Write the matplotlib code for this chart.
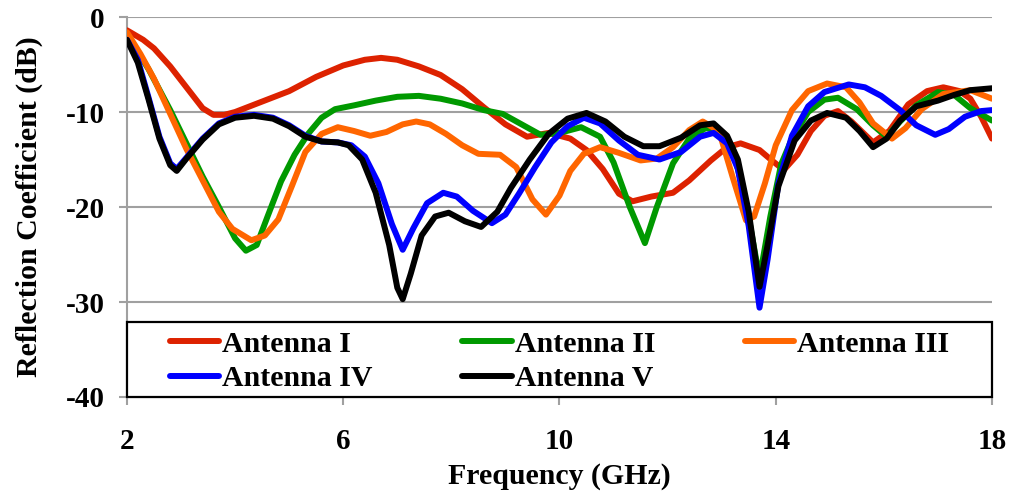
import matplotlib
matplotlib.use("Agg")
import matplotlib.pyplot as plt
from matplotlib.patches import Rectangle

plt.rcParams['font.family'] = ['Liberation Serif', 'DejaVu Serif']
plt.rcParams['font.weight'] = 'bold'
plt.rcParams['axes.unicode_minus'] = False

labels = ["Antenna I", "Antenna II", "Antenna III", "Antenna IV", "Antenna V"]
colors = ["#DD2200", "#009900", "#FF6600", "#0000FF", "#000000"]

f1 = [2.0, 2.3, 2.5, 2.8, 3.1, 3.4, 3.6, 3.8, 4.0, 4.5, 5.0, 5.5, 6.0, 6.4, 6.7, 7.0, 7.4, 7.8, 8.2, 8.6,
      9.0, 9.4, 9.8, 10.2, 10.5, 10.8, 11.1, 11.35, 11.7, 12.1, 12.4, 12.8, 13.1, 13.35, 13.7, 13.95, 14.15,
      14.4, 14.65, 14.9, 15.15, 15.4, 15.8, 16.1, 16.45, 16.8, 17.1, 17.4, 17.6, 17.8, 18.0]
s1 = [-1.4, -2.4, -3.3, -5.2, -7.4, -9.6, -10.3, -10.3, -10.0, -8.9, -7.8, -6.3, -5.1, -4.5, -4.3, -4.5, -5.2,
      -6.1, -7.6, -9.5, -11.3, -12.6, -12.2, -12.8, -14.0, -16.0, -18.6, -19.4, -18.9, -18.5, -17.2, -15.1,
      -13.7, -13.3, -14.0, -15.2, -16.1, -14.5, -12.0, -10.4, -9.9, -11.0, -13.2, -12.0, -9.2, -7.8, -7.4,
      -7.8, -8.6, -10.5, -12.8]

f2 = [2.0, 2.4, 2.8, 3.1, 3.4, 3.7, 4.0, 4.2, 4.4, 4.6, 4.85, 5.1, 5.35, 5.6, 5.85, 6.2, 6.6, 7.0, 7.4, 7.8,
      8.2, 8.6, 8.95, 9.3, 9.65, 10.0, 10.4, 10.75, 11.0, 11.3, 11.58, 11.8, 12.1, 12.4, 12.7, 12.95, 13.2,
      13.45, 13.7, 13.9, 14.1, 14.3, 14.6, 14.9, 15.15, 15.5, 15.8, 16.05, 16.3, 16.6, 17.0, 17.3, 17.6, 18.0]
s2 = [-1.8, -5.5, -9.8, -13.3, -16.8, -20.0, -23.3, -24.6, -24.0, -21.0, -17.3, -14.5, -12.3, -10.6, -9.7,
      -9.3, -8.8, -8.4, -8.3, -8.6, -9.1, -9.8, -10.2, -11.3, -12.4, -12.2, -11.6, -12.6, -15.3, -20.0, -23.8,
      -20.0, -15.4, -12.8, -11.7, -11.9, -13.7, -19.5, -27.5, -21.0, -15.5, -12.8, -10.0, -8.7, -8.5, -9.7,
      -11.4, -12.6, -11.0, -9.3, -7.9, -8.2, -9.6, -10.9]

f3 = [2.0, 2.25, 2.5, 2.8, 3.1, 3.4, 3.7, 3.95, 4.3, 4.55, 4.8, 5.05, 5.3, 5.6, 5.9, 6.2, 6.5, 6.8, 7.1, 7.35,
      7.6, 7.9, 8.2, 8.5, 8.9, 9.2, 9.5, 9.75, 10.0, 10.2, 10.45, 10.75, 11.1, 11.5, 11.8, 12.1, 12.4, 12.65,
      12.95, 13.2, 13.45, 13.6, 13.8, 14.0, 14.3, 14.6, 14.95, 15.3, 15.55, 15.8, 16.15, 16.4, 16.7, 17.1,
      17.6, 18.0]
s3 = [-1.6, -3.9, -6.5, -10.2, -13.9, -17.2, -20.5, -22.3, -23.5, -23.0, -21.3, -17.8, -14.2, -12.3, -11.6,
      -12.0, -12.5, -12.1, -11.3, -11.0, -11.3, -12.3, -13.5, -14.4, -14.5, -15.8, -19.2, -20.8, -18.8, -16.2,
      -14.4, -13.7, -14.3, -15.1, -14.9, -13.7, -11.9, -11.0, -12.0, -16.8, -21.4, -21.0, -17.5, -13.5, -9.8,
      -7.8, -7.0, -7.4, -9.0, -11.2, -12.8, -11.7, -9.7, -8.1, -7.7, -8.6]

f4 = [2.0, 2.2, 2.4, 2.6, 2.8, 2.92, 3.1, 3.4, 3.7, 4.0, 4.35, 4.7, 5.0, 5.3, 5.6, 5.9, 6.15, 6.4, 6.65, 6.9,
      7.1, 7.3, 7.55, 7.85, 8.1, 8.4, 8.75, 9.0, 9.25, 9.55, 9.85, 10.15, 10.45, 10.75, 11.1, 11.45, 11.85,
      12.25, 12.6, 12.85, 13.1, 13.3, 13.5, 13.7, 13.85, 14.05, 14.3, 14.6, 14.9, 15.35, 15.65, 15.95, 16.3,
      16.6, 16.95, 17.2, 17.5, 17.8, 18.0]
s4 = [-2.4, -4.5, -8.5, -12.6, -15.4, -16.0, -14.8, -12.8, -11.2, -10.5, -10.3, -10.6, -11.4, -12.5, -13.1,
      -13.2, -13.5, -14.7, -17.5, -21.8, -24.5, -22.2, -19.6, -18.5, -18.9, -20.4, -21.7, -20.8, -18.6, -15.8,
      -13.2, -11.5, -10.6, -11.2, -13.0, -14.5, -15.0, -14.2, -12.6, -12.2, -13.3, -16.0, -22.0, -30.6, -25.5,
      -17.5, -12.5, -9.4, -7.9, -7.1, -7.4, -8.3, -9.8, -11.4, -12.4, -11.8, -10.5, -9.9, -9.8]

f5 = [2.0, 2.2, 2.4, 2.6, 2.8, 2.92, 3.1, 3.4, 3.7, 4.0, 4.35, 4.7, 5.0, 5.3, 5.6, 5.9, 6.1, 6.35, 6.6, 6.85,
      7.0, 7.1, 7.25, 7.45, 7.7, 7.95, 8.25, 8.55, 8.85, 9.1, 9.45, 9.8, 10.15, 10.5, 10.85, 11.2, 11.55,
      11.85, 12.25, 12.6, 12.85, 13.1, 13.3, 13.5, 13.7, 13.85, 14.05, 14.35, 14.65, 14.95, 15.3, 15.55,
      15.8, 16.05, 16.3, 16.6, 17.0, 17.3, 17.6, 18.0]
s5 = [-2.4, -4.8, -8.7, -12.8, -15.6, -16.2, -14.9, -12.9, -11.3, -10.6, -10.4, -10.7, -11.5, -12.6, -13.1,
      -13.2, -13.5, -15.0, -18.5, -24.0, -28.5, -29.7, -27.0, -23.0, -21.0, -20.6, -21.5, -22.1, -20.5, -18.0,
      -15.0, -12.3, -10.7, -10.1, -11.0, -12.6, -13.6, -13.6, -12.7, -11.4, -11.2, -12.5, -15.0, -20.5, -28.4,
      -24.0, -17.8, -13.0, -10.9, -10.1, -10.6, -12.0, -13.7, -12.8, -10.9, -9.4, -8.8, -8.2, -7.7, -7.5]

xticks = [2, 6, 10, 14, 18]
yticks = [0, -10, -20, -30, -40]

fig = plt.figure(figsize=(10.11, 4.96), dpi=100)
ax = fig.add_axes([0.1256, 0.1996, 0.8556, 0.7661])

series = [(f1, s1), (f2, s2), (f3, s3), (f4, s4), (f5, s5)]
lines = []
for (fx, sy), c, lab in zip(series, colors, labels):
    ln, = ax.plot(fx, sy, color=c, lw=4.3, label=lab, solid_capstyle='round', solid_joinstyle='round', zorder=3)
    lines.append(ln)

ax.set_xlim(2, 18)
ax.set_ylim(-40, 0)
ax.set_xticks(xticks)
ax.set_yticks(yticks)
ax.set_yticklabels([str(v) for v in yticks])
for yv in [0, -10, -20, -30]:
    ax.axhline(yv, color='#a0a0a0', lw=1.5, zorder=1)

for s in ['top', 'right']:
    ax.spines[s].set_visible(False)
for s in ['left', 'bottom']:
    ax.spines[s].set_color('#a0a0a0')
    ax.spines[s].set_linewidth(1.5)
ax.tick_params(axis='both', colors='#a0a0a0', labelcolor='black', width=1.5, length=6, labelsize=21)
ax.tick_params(axis='x', pad=16)
ax.tick_params(axis='y', pad=10)
for t in ax.get_xticklabels() + ax.get_yticklabels():
    t.set_fontweight('bold')

ax.set_xlabel("Frequency (GHz)", fontsize=21.5, fontweight='bold', labelpad=6)
ax.set_ylabel("Reflection Coefficient (dB)", fontsize=21.5, fontweight='bold', labelpad=16)

box = Rectangle((0, 0), 1, 0.197, transform=ax.transAxes, facecolor='white', edgecolor='black',
                lw=1.6, zorder=5, clip_on=False)
ax.add_patch(box)

# row-major order: I, II, III / IV, V
order = [0, 3, 1, 4, 2]
leg = ax.legend([lines[i] for i in order], [labels[i] for i in order], loc='center',
                bbox_to_anchor=(0.5, 0.093), ncol=3, frameon=False,
                prop={'family': 'Liberation Serif', 'weight': 'bold', 'size': 21.5},
                handlelength=1.65, handletextpad=0.1, columnspacing=3.0, labelspacing=0.25,
                borderpad=0.0)
leg.set_zorder(6)

fig.savefig("out.png", dpi=100)
